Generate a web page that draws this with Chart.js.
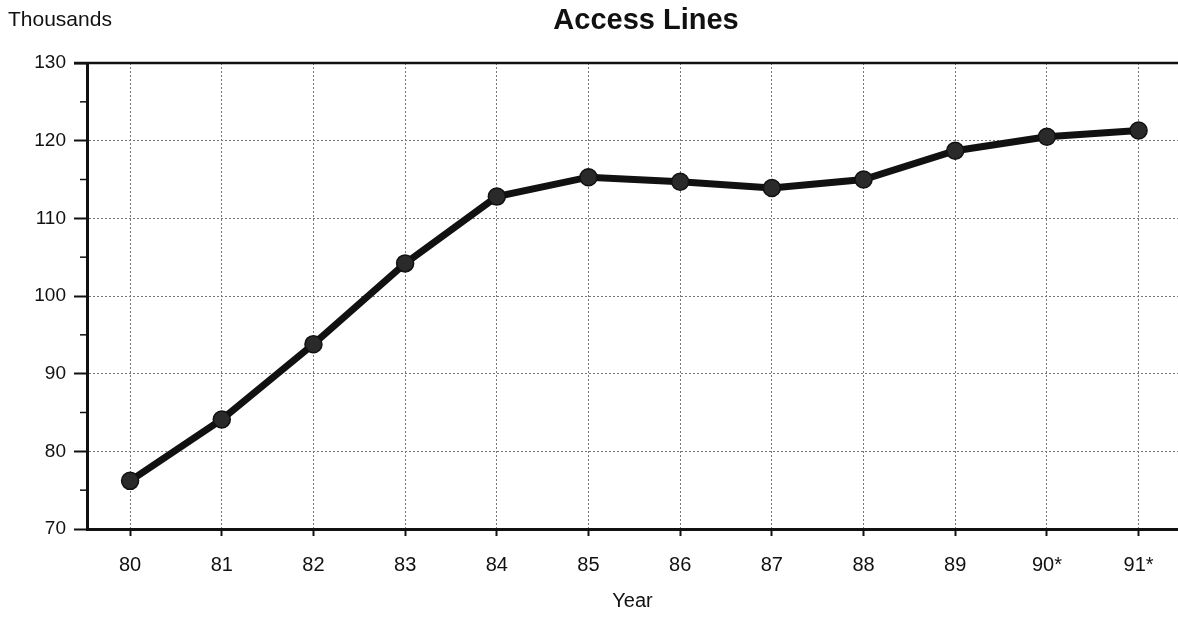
<!DOCTYPE html>
<html>
<head>
<meta charset="utf-8">
<script src="https://cdn.jsdelivr.net/npm/chart.js@4/dist/chart.umd.min.js"></script>
<style>
html,body{margin:0;padding:0;background:#fff;}
#wrap{width:1178px;height:617px;position:relative;}
</style>
</head>
<body>
<div id="wrap"><canvas id="c" width="1178" height="617"></canvas></div>
<script>
const categories = ["80","81","82","83","84","85","86","87","88","89","90*","91*"];
const accessLines = [76.2, 84.1, 93.8, 104.2, 112.8, 115.3, 114.7, 113.9, 115.0, 118.7, 120.5, 121.3];
const yTicks = [70, 80, 90, 100, 110, 120, 130];
const yMinorTicks = [75, 85, 95, 105, 115, 125];
const chartTitle = "Access Lines";
const yUnitLabel = "Thousands";
const xTitle = "Year";

const FONT = "'Liberation Sans', Arial, Helvetica, sans-serif";

const decor = {
  id: 'decor',
  afterDraw(chart) {
    const ctx = chart.ctx;
    const y = chart.scales.y;
    const ca = chart.chartArea;
    ctx.save();
    ctx.fillStyle = '#111';
    ctx.textBaseline = 'middle';
    // unit label
    ctx.font = "21px " + FONT;
    ctx.textAlign = 'left';
    ctx.fillText(yUnitLabel, 8, 20);
    // title
    ctx.font = "bold 29px " + FONT;
    ctx.textAlign = 'center';
    ctx.fillText(chartTitle, 646, 21);
    // top line at 130
    ctx.strokeStyle = '#111';
    ctx.lineWidth = 2.5;
    ctx.beginPath();
    const yt = y.getPixelForValue(yTicks[yTicks.length-1]);
    ctx.moveTo(ca.left - 13, yt);
    ctx.lineTo(ca.right, yt);
    ctx.stroke();
    // minor ticks
    ctx.lineWidth = 1.5;
    yMinorTicks.forEach(v => {
      const py = y.getPixelForValue(v);
      ctx.beginPath();
      ctx.moveTo(ca.left - 7, py);
      ctx.lineTo(ca.left + 2, py);
      ctx.stroke();
    });
    ctx.restore();
  }
};

new Chart(document.getElementById('c'), {
  type: 'line',
  data: {
    datasets: [{
      data: accessLines.map((v, i) => ({x: i, y: v})),
      borderColor: '#111',
      borderWidth: 7,
      pointRadius: 8.5,
      pointBackgroundColor: '#2a2a2a',
      pointBorderColor: '#111',
      pointBorderWidth: 1.5,
      tension: 0,
      clip: false
    }]
  },
  options: {
    responsive: false,
    animation: false,
    events: [],
    layout: {autoPadding: false, padding: {left: 0, right: 0, top: 63, bottom: 0}},
    plugins: {
      legend: {display: false},
      tooltip: {enabled: false},
      title: {display: false}
    },
    scales: {
      x: {
        type: 'linear',
        min: -0.47,
        max: 11.43,
        afterBuildTicks(axis) {
          axis.ticks = categories.map((c, i) => ({value: i}));
        },
        afterFit(axis) {
          axis.height = 88;
          axis.paddingLeft = 0;
          axis.paddingRight = 0;
        },
        ticks: {
          callback: (v) => categories[v],
          color: '#111',
          font: {family: FONT, size: 20},
          padding: 17,
          maxRotation: 0,
          autoSkip: false
        },
        grid: {
          color: '#777',
          lineWidth: 1,
          tickColor: '#111',
          tickLength: 7,
          tickWidth: 2
        },
        border: {display: true, color: '#111', width: 3, dash: [2, 2]},
        title: {
          display: true,
          text: xTitle,
          color: '#111',
          font: {family: FONT, size: 20},
          padding: {top: 4, bottom: 4}
        }
      },
      y: {
        type: 'linear',
        min: 70,
        max: 130,
        afterBuildTicks(axis) {
          axis.ticks = yTicks.map(v => ({value: v}));
        },
        afterFit(axis) {
          axis.width = 87;
          axis.paddingTop = 0;
          axis.paddingBottom = 0;
        },
        ticks: {
          color: '#111',
          font: {family: FONT, size: 19},
          padding: 8
        },
        grid: {
          color: '#777',
          lineWidth: 1,
          tickColor: '#111',
          tickLength: 13,
          tickWidth: 2
        },
        border: {display: true, color: '#111', width: 3, dash: [2, 2]}
      }
    }
  },
  plugins: [decor]
});
</script>
</body>
</html>
